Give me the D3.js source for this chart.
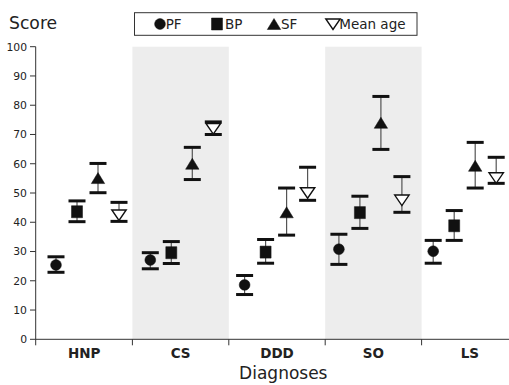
<!DOCTYPE html>
<html><head><meta charset="utf-8">
<script src="https://cdn.jsdelivr.net/npm/d3@7"></script>
<style>body{margin:0;background:#fff}svg{display:block}text{font-family:"DejaVu Sans",sans-serif}</style>
</head><body><div id="chart"></div>
<script>
const categories = ["HNP","CS","DDD","SO","LS"];
const series = ["PF","BP","SF","Mean age"];
const yTicks = [0,10,20,30,40,50,60,70,80,90,100];
// mean, lower, upper per series (one entry per category)
const pfMean = [25.4,27.1,18.6,30.8,30.1];
const pfLow  = [22.9,24.1,15.3,25.6,26.0];
const pfHigh = [28.2,29.6,21.8,35.9,33.8];
const bpMean = [43.6,29.6,29.8,43.3,38.8];
const bpLow  = [40.2,25.9,26.0,37.9,33.8];
const bpHigh = [47.3,33.4,34.1,48.9,44.0];
const sfMean = [55.1,60.0,43.4,74.0,59.3];
const sfLow  = [50.1,54.6,35.6,64.9,51.7];
const sfHigh = [60.1,65.6,51.7,83.0,67.3];
const ageMean = [42.5,72.0,50.1,47.6,55.2];
const ageLow  = [40.3,70.0,47.5,43.4,53.3];
const ageHigh = [46.8,74.3,58.8,55.6,62.2];

const seriesData = [
  {name:"PF", mean:pfMean, lo:pfLow, hi:pfHigh, shape:"circle"},
  {name:"BP", mean:bpMean, lo:bpLow, hi:bpHigh, shape:"square"},
  {name:"SF", mean:sfMean, lo:sfLow, hi:sfHigh, shape:"up"},
  {name:"Mean age", mean:ageMean, lo:ageLow, hi:ageHigh, shape:"down"}
];

const W=509,H=385;
const svg=d3.select("#chart").append("svg").attr("width",W).attr("height",H);

const y=d3.scaleLinear().domain([0,100]).range([339.3,46.7]);
const xBand=d3.scaleBand().domain(categories).range([36,518]);
const xGroup=d3.scaleLinear().domain([0,categories.length-1]).range([56,433.2]);
const xSeries=d3.scalePoint().domain(series).range([0,63]);

// shaded bands
svg.selectAll("rect.band").data(categories.filter((c,i)=>i%2===1)).enter().append("rect")
  .attr("x",d=>xBand(d)).attr("width",xBand.bandwidth())
  .attr("y",y(100)).attr("height",y(0)-y(100)).attr("fill","#ededed");

// y axis
const axCol="#333";
svg.append("line").attr("x1",35.7).attr("x2",35.7).attr("y1",y(100)).attr("y2",y(0)+6).attr("stroke",axCol);
const yt=svg.selectAll("g.yt").data(yTicks).enter().append("g").attr("transform",d=>`translate(0,${y(d)})`);
yt.append("line").attr("x1",30).attr("x2",35.7).attr("stroke",axCol);
yt.append("text").attr("x",27).attr("dy","0.36em").attr("text-anchor","end").attr("font-size",10.8).attr("fill","#222").text(d=>d);

// x axis
svg.append("line").attr("x1",35.7).attr("x2",W).attr("y1",y(0)).attr("y2",y(0)).attr("stroke",axCol);
svg.selectAll("line.xt").data(categories.slice(1)).enter().append("line")
  .attr("x1",d=>xBand(d)).attr("x2",d=>xBand(d)).attr("y1",y(0)).attr("y2",y(0)+6).attr("stroke",axCol);
svg.selectAll("text.xl").data(categories).enter().append("text")
  .attr("x",d=>xBand(d)+xBand.bandwidth()/2).attr("y",357.7).attr("text-anchor","middle")
  .attr("font-size",13.5).attr("font-weight","bold").attr("fill","#222").text(d=>d);
svg.append("text").attr("x",283.3).attr("y",379).attr("text-anchor","middle").attr("font-size",17).attr("fill","#222").text("Diagnoses");
svg.append("text").attr("x",9).attr("y",29.3).attr("font-size",17.2).attr("fill","#222").text("Score");

function shapePath(shape){
  if(shape==="circle") return "M5.4,0A5.4,5.4 0 1,1 -5.4,0A5.4,5.4 0 1,1 5.4,0Z";
  if(shape==="square") return "M-5.5,-6H5.5V6H-5.5Z";
  if(shape==="up") return "M0,-5.5L6.7,5.5H-6.7Z";
  return "M-7.2,-5L7.2,-5L0,5.5Z";
}
function drawMarker(g,shape){
  g.append("path").attr("d",shapePath(shape))
   .attr("fill",shape==="down"?"#fff":"#111")
   .attr("stroke","#111").attr("stroke-width",shape==="down"?1.4:0.5);
}

seriesData.forEach(s=>{
  categories.forEach((c,i)=>{
    const cx=xGroup(i)+xSeries(s.name);
    const g=svg.append("g");
    g.append("line").attr("x1",cx).attr("x2",cx).attr("y1",y(s.hi[i])).attr("y2",y(s.lo[i])).attr("stroke","#555").attr("stroke-width",1.2);
    [s.hi[i],s.lo[i]].forEach(v=>{
      g.append("line").attr("x1",cx-8.5).attr("x2",cx+8.5).attr("y1",y(v)).attr("y2",y(v)).attr("stroke","#111").attr("stroke-width",3);
    });
    const m=g.append("g").attr("transform",`translate(${cx},${y(s.mean[i])})`);
    drawMarker(m,s.shape);
  });
});

// legend
svg.append("rect").attr("x",134.5).attr("y",12.7).attr("width",282.5).attr("height",22.6).attr("fill","#fff").attr("stroke","#333").attr("stroke-width",1);
const legX=[160,217,274,333], legT=[165.7,225,281,339.3];
seriesData.forEach((s,i)=>{
  const m=svg.append("g").attr("transform",`translate(${legX[i]},24)`);
  drawMarker(m,s.shape);
  svg.append("text").attr("x",legT[i]).attr("y",28.6).attr("font-size",13.5).attr("fill","#222").text(s.name);
});
</script></body></html>
